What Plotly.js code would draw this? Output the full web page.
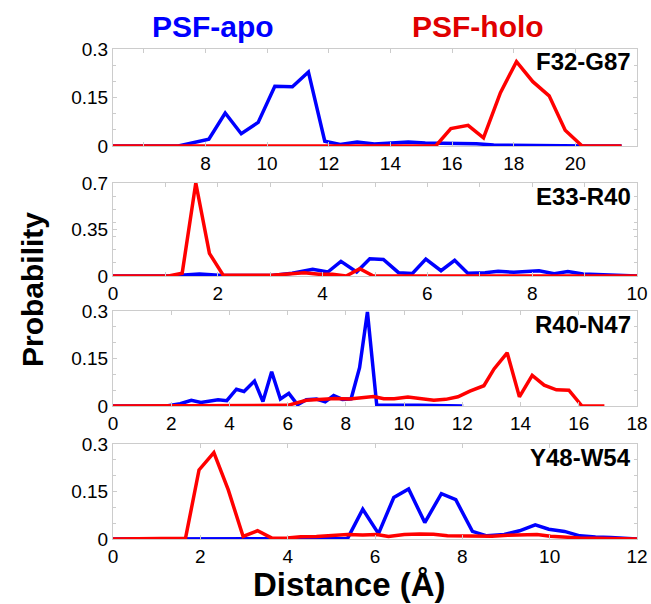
<!DOCTYPE html>
<html>
<head>
<meta charset="utf-8">
<script src="https://cdn.plot.ly/plotly-3.0.1.min.js"></script>
<style>html,body{margin:0;padding:0;background:#fff;}#chart{width:651px;height:604px;}</style>
</head>
<body>
<div id="chart"></div>
<script>
// Panel 1: F32-G87
const p1ApoX = [5.0, 6.6, 7.12, 8.11, 8.64, 9.16, 9.71, 10.25, 10.82, 11.34, 11.87, 12.37, 12.92, 13.48, 14.03, 14.58, 15.13, 15.69, 16.24, 16.79, 17.35, 17.90, 18.5, 19.5, 20.5, 21.5];
const p1ApoY = [0, 0, 0, 0.021, 0.102, 0.038, 0.073, 0.185, 0.183, 0.229, 0.015, 0.005, 0.012, 0.006, 0.008, 0.012, 0.009, 0.009, 0.008, 0.007, 0.003, 0.002, 0.001, 0, 0, 0];
const p1HoloX = [5.0, 15.47, 15.96, 16.52, 17.02, 17.57, 18.09, 18.62, 19.15, 19.67, 20.22, 21.5];
const p1HoloY = [0, 0, 0.054, 0.064, 0.025, 0.165, 0.261, 0.199, 0.155, 0.049, 0, 0];
// Panel 2: E33-R40
const p2ApoX = [0, 1.06, 1.65, 2.10, 3.03, 3.42, 3.81, 4.10, 4.35, 4.65, 4.90, 5.16, 5.45, 5.71, 5.97, 6.26, 6.52, 6.77, 7.10, 7.35, 7.65, 8.13, 8.42, 8.68, 8.97, 9.48, 10];
const p2ApoY = [0, 0, 0.015, 0.003, 0.003, 0.02, 0.05, 0.03, 0.11, 0.03, 0.13, 0.125, 0.025, 0.018, 0.128, 0.04, 0.118, 0.02, 0.025, 0.035, 0.028, 0.04, 0.018, 0.033, 0.015, 0.005, 0];
const p2HoloX = [0, 1.06, 1.32, 1.58, 1.84, 2.10, 3.03, 3.65, 3.94, 4.19, 4.45, 4.71, 4.97, 10];
const p2HoloY = [0, 0, 0.02, 0.70, 0.17, 0.008, 0.005, 0.025, 0.0125, 0.0125, 0, 0.055, 0, 0];
// Panel 3: R40-N47
const p3ApoX = [0, 1.84, 2.31, 2.69, 3.02, 3.61, 3.91, 4.24, 4.50, 4.86, 5.15, 5.45, 5.75, 6.04, 6.34, 6.64, 6.99, 7.29, 7.58, 7.88, 8.18, 8.47, 8.74, 9.06, 10.5, 12.03];
const p3ApoY = [0, 0, 0.007, 0.018, 0.011, 0.02, 0.017, 0.053, 0.046, 0.079, 0.014, 0.108, 0.022, 0.04, 0.004, 0.02, 0.022, 0.013, 0.033, 0.021, 0.023, 0.121, 0.297, 0.003, 0.002, 0];
const p3HoloX = [0, 6.0, 6.64, 7.17, 7.64, 8.12, 8.95, 9.30, 9.66, 10.13, 11.02, 11.43, 11.85, 12.26, 12.74, 13.09, 13.54, 13.96, 14.40, 14.81, 15.23, 15.66, 16.11, 16.88];
const p3HoloY = [0, 0.002, 0.018, 0.02, 0.024, 0.022, 0.03, 0.023, 0.023, 0.028, 0.018, 0.021, 0.029, 0.047, 0.064, 0.117, 0.168, 0.029, 0.097, 0.066, 0.051, 0.050, 0, 0];
// Panel 4: Y48-W54
const p4ApoX = [0, 1.66, 5.37, 5.72, 6.08, 6.43, 6.77, 7.14, 7.52, 7.85, 8.23, 8.56, 8.96, 9.31, 9.67, 9.98, 10.34, 10.69, 11.05, 11.40, 11.72, 12.0];
const p4ApoY = [0, 0, 0.001, 0.094, 0.017, 0.131, 0.158, 0.052, 0.143, 0.124, 0.024, 0.010, 0.014, 0.026, 0.045, 0.031, 0.024, 0.010, 0.006, 0.005, 0.001, 0];
const p4HoloX = [0, 1.66, 1.97, 2.31, 2.64, 2.98, 3.31, 3.65, 3.99, 4.30, 4.66, 5.01, 5.37, 5.72, 6.04, 6.31, 6.67, 7.02, 7.34, 7.66, 8.01, 8.37, 8.68, 9.04, 9.35, 9.71, 10.02, 10.38, 10.69, 11.05, 11.40, 12.0];
const p4HoloY = [0, 0.002, 0.218, 0.273, 0.155, 0.008, 0.026, 0.002, 0.003, 0.007, 0.008, 0.012, 0.014, 0.013, 0.014, 0.008, 0.014, 0.016, 0.015, 0.010, 0.010, 0.010, 0.009, 0.012, 0.014, 0.014, 0.009, 0.005, 0.003, 0.002, 0.001, 0];

const panelLabels = ["F32-G87", "E33-R40", "R40-N47", "Y48-W54"];
const seriesNames = ["PSF-apo", "PSF-holo"];
const xTickVals = [[8, 10, 12, 14, 16, 18, 20], [0, 2, 4, 6, 8, 10], [0, 2, 4, 6, 8, 10, 12, 14, 16, 18], [0, 2, 4, 6, 8, 10, 12]];
const xTickMarks = [[6, 8, 10, 12, 14, 16, 18, 20], [0, 1, 2, 3, 4, 5, 6, 7, 8, 9, 10], [0, 2, 4, 6, 8, 10, 12, 14, 16, 18], [0, 2, 4, 6, 8, 10, 12]];
const yTickText = [["0", "0.15", "0.3"], ["0", "0.35", "0.7"], ["0", "0.15", "0.3"], ["0", "0.15", "0.3"]];
const yTickVals = [[0, 0.15, 0.3], [0, 0.35, 0.7], [0, 0.15, 0.3], [0, 0.15, 0.3]];
const xRanges = [[5, 22], [0, 10], [0, 18], [0, 12]];
const yRanges = [[0, 0.3], [0, 0.7], [0, 0.3], [0, 0.3]];

const BLUE = "#0000ff", RED = "#ff0000";
const W = 651, H = 604;
const FONT = "Liberation Sans, Arial, Helvetica, sans-serif";
const panelPx = [[49, 146], [183, 276], [311, 406], [444, 539]];
const xDom = [113 / W, 637 / W];
const minorDt = [0.05, 0.1, 0.05, 0.05];

const apo = [[p1ApoX, p1ApoY], [p2ApoX, p2ApoY], [p3ApoX, p3ApoY], [p4ApoX, p4ApoY]];
const holo = [[p1HoloX, p1HoloY], [p2HoloX, p2HoloY], [p3HoloX, p3HoloY], [p4HoloX, p4HoloY]];

const traces = [];
const layout = {
  width: W, height: H,
  margin: {l: 0, r: 0, t: 0, b: 0},
  paper_bgcolor: "#fff", plot_bgcolor: "#fff",
  showlegend: false,
  font: {family: FONT, color: "#000"},
  annotations: []
};

for (let i = 0; i < 4; i++) {
  const sfx = i === 0 ? "" : String(i + 1);
  traces.push({x: apo[i][0], y: apo[i][1], xaxis: "x" + sfx, yaxis: "y" + sfx, mode: "lines", name: seriesNames[0], line: {color: BLUE, width: 3.5}});
  traces.push({x: holo[i][0], y: holo[i][1], xaxis: "x" + sfx, yaxis: "y" + sfx, mode: "lines", name: seriesNames[1], line: {color: RED, width: 3.5}});
  const yd = [1 - panelPx[i][1] / H, 1 - panelPx[i][0] / H];
  layout["xaxis" + sfx] = {
    domain: xDom, anchor: "y" + sfx, range: xRanges[i],
    showline: true, linecolor: "#cccccc", linewidth: 1, mirror: "ticks",
    ticks: "inside", ticklen: 4, tickcolor: "#cccccc",
    tickmode: "array", tickvals: xTickMarks[i],
    ticktext: xTickMarks[i].map(v => xTickVals[i].includes(v) ? String(v) : ""),
    showgrid: false, zeroline: false,
    tickfont: {size: 19, family: FONT, color: "#000"}
  };
  layout["yaxis" + sfx] = {
    domain: yd, anchor: "x" + sfx, range: yRanges[i],
    showline: true, linecolor: "#cccccc", linewidth: 1, mirror: "ticks",
    ticks: "inside", ticklen: 4, tickcolor: "#cccccc",
    tickmode: "array", tickvals: yTickVals[i], ticktext: yTickText[i],
    minor: {dtick: minorDt[i], tick0: 0, ticks: "inside", ticklen: 3, tickcolor: "#cccccc", showgrid: false},
    showgrid: false, zeroline: false,
    tickfont: {size: 19, family: FONT, color: "#000"}
  };
  layout.annotations.push({
    text: "<b>" + panelLabels[i] + "</b>", xref: "paper", yref: "paper",
    x: 633 / W, y: 1 - (panelPx[i][0] + 13) / H, xanchor: "right", yanchor: "middle",
    showarrow: false, font: {size: 24, family: FONT, color: "#000"}
  });
}

layout.annotations.push(
  {text: "<b>" + seriesNames[0] + "</b>", xref: "paper", yref: "paper", x: 213 / W, y: 1 - 27 / H, xanchor: "center", yanchor: "middle", showarrow: false, font: {size: 30, family: FONT, color: BLUE}},
  {text: "<b>" + seriesNames[1] + "</b>", xref: "paper", yref: "paper", x: 478 / W, y: 1 - 27 / H, xanchor: "center", yanchor: "middle", showarrow: false, font: {size: 30, family: FONT, color: "#e00000"}},
  {text: "<b>Probability</b>", xref: "paper", yref: "paper", x: 32 / W, y: 1 - 290 / H, xanchor: "center", yanchor: "middle", textangle: -90, showarrow: false, font: {size: 30, family: FONT, color: "#000"}},
  {text: "<b>Distance (Å)</b>", xref: "paper", yref: "paper", x: 349 / W, y: 1 - 584 / H, xanchor: "center", yanchor: "middle", showarrow: false, font: {size: 33, family: FONT, color: "#000"}}
);

Plotly.newPlot("chart", traces, layout, {staticPlot: true});
</script>
</body>
</html>
